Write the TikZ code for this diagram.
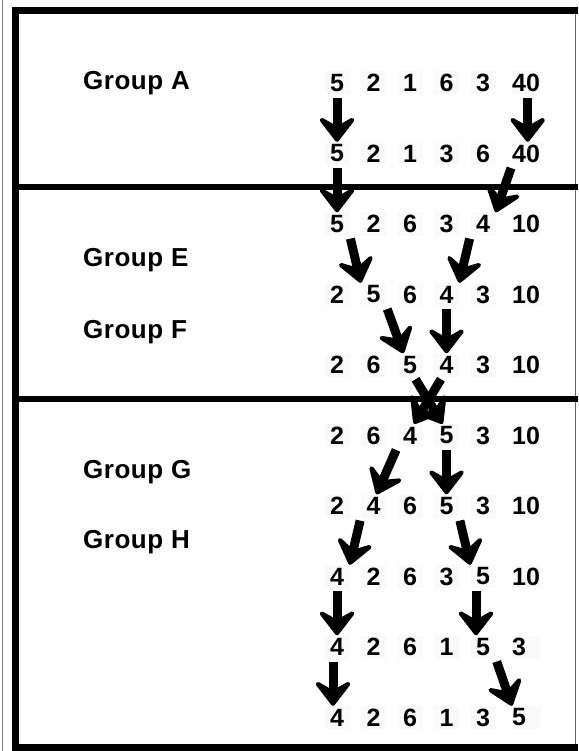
\documentclass[tikz,border=0pt]{standalone}
\usepackage{fontspec}
\setmainfont{Liberation Sans}
\newfontfamily\grpfont[LetterSpace=2]{Liberation Sans}
\usepackage{tikz}
\usetikzlibrary{arrows.meta}

\begin{document}
\begin{tikzpicture}[x=1pt, y=-1pt,
    num/.style={inner sep=0pt, minimum width=25pt, minimum height=23pt, fill=black!2, font=\bfseries\fontsize{25}{28}\selectfont},
    numlast/.style={num, text width=29pt, align=left, anchor=west},
    grp/.style={anchor=west, inner sep=0pt, font=\grpfont\bfseries\fontsize{26}{30}\selectfont},
    mv/.style={line width=9pt, shorten <=3pt, -{Stealth[length=30pt, width=46pt, inset=13pt, round]}}]
    \useasboundingbox (0,0) rectangle (578,751);

    % Frame
    \draw[gray, line width=1.5pt] (2.5,0) -- (2.5,751);
    \draw[line width=7pt] (15.5,751) |- (578,10.5);
    \draw[line width=7pt] (12,747.5) -- (578,747.5);
    \draw[black!60, line width=1.5pt] (575.5,14) -- (575.5,744);
    \draw[line width=6pt] (19,187) -- (578,187);
    \draw[line width=6pt] (19,399) -- (578,399);

    % Group names
    \node[grp] (grpA) at (83,83) {Group A};
    \node[grp] (grpE) at (83,260) {Group E};
    \node[grp] (grpF) at (83,332) {Group F};
    \node[grp] (grpG) at (83,472) {Group G};
    \node[grp] (grpH) at (83,542) {Group H};

    % Rows
    \node[num] (r1c1) at (337,83) {5}; \node[num] (r1c2) at (373.5,83) {2}; \node[num] (r1c3) at (410,83) {1}; \node[num] (r1c4) at (446.5,83) {6}; \node[num] (r1c5) at (483,83) {3}; \node[numlast] (r1c6) at (512,83) {40};
    \node[num] (r2c1) at (337,153.5) {5}; \node[num] (r2c2) at (373.5,153.5) {2}; \node[num] (r2c3) at (410,153.5) {1}; \node[num] (r2c4) at (446.5,153.5) {3}; \node[num] (r2c5) at (483,153.5) {6}; \node[numlast] (r2c6) at (512,153.5) {40};
    \node[num] (r3c1) at (337,224) {5}; \node[num] (r3c2) at (373.5,224) {2}; \node[num] (r3c3) at (410,224) {6}; \node[num] (r3c4) at (446.5,224) {3}; \node[num] (r3c5) at (483,224) {4}; \node[numlast] (r3c6) at (512,224) {10};
    \node[num] (r4c1) at (337,294.5) {2}; \node[num] (r4c2) at (373.5,294.5) {5}; \node[num] (r4c3) at (410,294.5) {6}; \node[num] (r4c4) at (446.5,294.5) {4}; \node[num] (r4c5) at (483,294.5) {3}; \node[numlast] (r4c6) at (512,294.5) {10};
    \node[num] (r5c1) at (337,365) {2}; \node[num] (r5c2) at (373.5,365) {6}; \node[num] (r5c3) at (410,365) {5}; \node[num] (r5c4) at (446.5,365) {4}; \node[num] (r5c5) at (483,365) {3}; \node[numlast] (r5c6) at (512,365) {10};
    \node[num] (r6c1) at (337,435.5) {2}; \node[num] (r6c2) at (373.5,435.5) {6}; \node[num] (r6c3) at (410,435.5) {4}; \node[num] (r6c4) at (446.5,435.5) {5}; \node[num] (r6c5) at (483,435.5) {3}; \node[numlast] (r6c6) at (512,435.5) {10};
    \node[num] (r7c1) at (337,506) {2}; \node[num] (r7c2) at (373.5,506) {4}; \node[num] (r7c3) at (410,506) {6}; \node[num] (r7c4) at (446.5,506) {5}; \node[num] (r7c5) at (483,506) {3}; \node[numlast] (r7c6) at (512,506) {10};
    \node[num] (r8c1) at (337,576.5) {4}; \node[num] (r8c2) at (373.5,576.5) {2}; \node[num] (r8c3) at (410,576.5) {6}; \node[num] (r8c4) at (446.5,576.5) {3}; \node[num] (r8c5) at (483,576.5) {5}; \node[numlast] (r8c6) at (512,576.5) {10};
    \node[num] (r9c1) at (337,647) {4}; \node[num] (r9c2) at (373.5,647) {2}; \node[num] (r9c3) at (410,647) {6}; \node[num] (r9c4) at (446.5,647) {1}; \node[num] (r9c5) at (483,647) {5}; \node[numlast] (r9c6) at (512,647) {3};
    \node[num] (r10c1) at (337,717.5) {4}; \node[num] (r10c2) at (373.5,717.5) {2}; \node[num] (r10c3) at (410,717.5) {6}; \node[num] (r10c4) at (446.5,717.5) {1}; \node[num] (r10c5) at (483,717.5) {3}; \node[numlast] (r10c6) at (512,717.5) {5};

    % Moves
    \draw[mv] (r1c1.south) -- (r2c1.north);
    \draw[mv] ([xshift=1pt]r1c6.south) -- ([xshift=1pt]r2c6.north);
    \draw[mv] (r2c1.south) -- (r3c1.north);
    \draw[mv] (r2c6.south west) -- (r3c5.north east);
    \draw[mv] (r3c1.south east) -- (r4c2.north west);
    \draw[mv] (r3c5.south west) -- (r4c4.north east);
    \draw[mv] (r4c2.south east) -- ([xshift=6pt]r5c3.north west);
    \draw[mv] (r4c4.south) -- (r5c4.north);
    \draw[mv] ([xshift=4pt]r5c3.south) -- ([xshift=-4pt]r6c4.north);
    \draw[mv] ([xshift=-4pt]r5c4.south) -- ([xshift=4pt]r6c3.north);
    \draw[mv] (r6c3.south west) -- ([xshift=3pt]r7c2.north);
    \draw[mv] (r6c4.south) -- (r7c4.north);
    \draw[mv] (r7c2.south west) -- (r8c1.north east);
    \draw[mv] (r7c4.south east) -- (r8c5.north west);
    \draw[mv] (r8c1.south) -- (r9c1.north);
    \draw[mv] ([xshift=-7pt]r8c5.south) -- ([xshift=-7pt]r9c5.north);
    \draw[mv] ([xshift=-4pt]r9c1.south) -- ([xshift=-4pt]r10c1.north);
    \draw[mv] (r9c5.south east) -- (r10c6.north west);
\end{tikzpicture}
\end{document}
